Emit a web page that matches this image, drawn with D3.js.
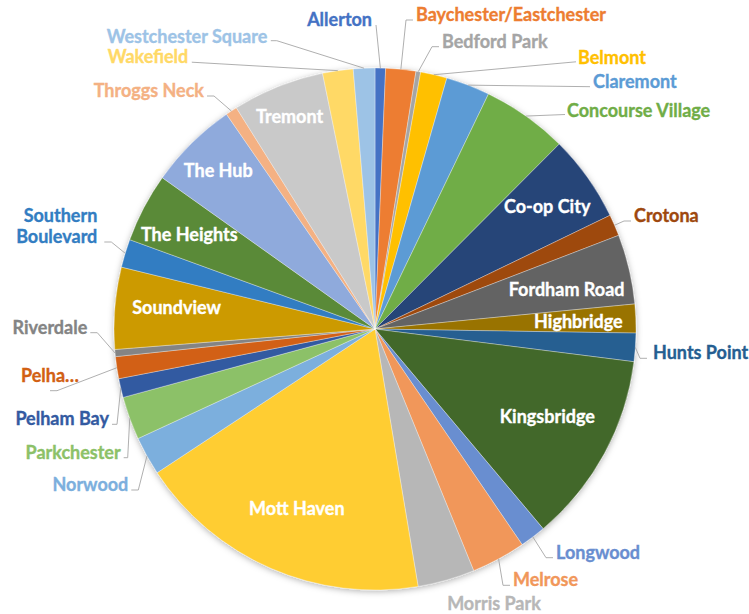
<!DOCTYPE html>
<html>
<head>
<meta charset="utf-8">
<script src="https://cdn.jsdelivr.net/npm/d3@7"></script>
<style>
  html, body { margin: 0; padding: 0; background: #ffffff; }
  svg { display: block; }
  text { font-family: "Lato", "Open Sans", sans-serif; font-weight: 700; }
</style>
</head>
<body>
<svg id="chart" width="749" height="614"></svg>
<script>
// Bronx neighborhoods, share of total (%), clockwise from 12 o'clock
const neighborhoods = [
  "Allerton", "Baychester/Eastchester", "Bedford Park", "Belmont", "Claremont",
  "Concourse Village", "Co-op City", "Crotona", "Fordham Road", "Highbridge",
  "Hunts Point", "Kingsbridge", "Longwood", "Melrose", "Morris Park",
  "Mott Haven", "Norwood", "Parkchester", "Pelham Bay", "Pelham Parkway",
  "Riverdale", "Soundview", "Southern Boulevard", "The Heights", "The Hub",
  "Throggs Neck", "Tremont", "Wakefield", "Westchester Square"
];
const shares = [
  0.65, 1.86, 0.29, 1.64, 2.72,
  5.31, 5.36, 1.33, 4.31, 1.78,
  1.75, 11.86, 1.61, 3.36, 3.53,
  18.36, 2.39, 2.67, 1.17, 1.36,
  0.44, 5.06, 1.75, 4.28, 5.53,
  0.72, 5.69, 1.89, 1.33
];
// label text as shown (long names may be shortened or wrapped)
const labelLines = [
  ["Allerton"], ["Baychester/Eastchester"], ["Bedford Park"], ["Belmont"], ["Claremont"],
  ["Concourse Village"], ["Co-op City"], ["Crotona"], ["Fordham Road"], ["Highbridge"],
  ["Hunts Point"], ["Kingsbridge"], ["Longwood"], ["Melrose"], ["Morris Park"],
  ["Mott Haven"], ["Norwood"], ["Parkchester"], ["Pelham Bay"], ["Pelha…"],
  ["Riverdale"], ["Soundview"], ["Southern", "Boulevard"], ["The Heights"], ["The Hub"],
  ["Throggs Neck"], ["Tremont"], ["Wakefield"], ["Westchester Square"]
];
const sliceColors = [
  "#4472C4", "#ED7D31", "#A5A5A5", "#FFC000", "#5B9BD5",
  "#70AD47", "#264478", "#9E480E", "#636363", "#997300",
  "#255E91", "#43682B", "#698ED0", "#F1975A", "#B7B7B7",
  "#FFCD33", "#7CAFDD", "#8CC168", "#335AA1", "#D26012",
  "#848484", "#CC9A00", "#327DC2", "#5A8A39", "#8FAADC",
  "#F4B183", "#C9C9C9", "#FFD966", "#9DC3E6"
];

// ---- layout ----
const cx = 375, cy = 329, R = 261;
const fontSize = 18;

// labels drawn inside their slice: distance from centre (fraction of R)
// and a small angular nudge in degrees
const insideLabel = {
  "Co-op City":   { r: 0.81,  nudge: 0 },
  "Fordham Road": { r: 0.75,  nudge: 1.5 },
  "Highbridge":   { r: 0.78,  nudge: 0 },
  "Kingsbridge":  { r: 0.74,  nudge: -1.7 },
  "Mott Haven":   { r: 0.75,  nudge: 0 },
  "Soundview":    { r: 0.765, nudge: 1.8 },
  "The Heights":  { r: 0.80,  nudge: -0.5 },
  "The Hub":      { r: 0.855, nudge: 0 },
  "Tremont":      { r: 0.88,  nudge: 0 }
};
// labels outside the pie: offset of the text anchor from the centre, anchor side,
// and leader style ("elbow" = short horizontal stub, "straight", "none"); end = attach offset
const outside = {
  "Allerton":               { dx: -3,     dy: -310,   anchor: "end",    leader: "straight", end: [4, 6] },
  "Baychester/Eastchester": { dx: 41,     dy: -315,   anchor: "start",  leader: "elbow" },
  "Bedford Park":           { dx: 67,     dy: -288.3, anchor: "start",  leader: "elbow" },
  "Belmont":                { dx: 203,    dy: -271.7, anchor: "start",  leader: "straight", end: [-2, 4.5] },
  "Claremont":              { dx: 218,    dy: -248.3, anchor: "start",  leader: "straight", end: [-3, 6] },
  "Concourse Village":      { dx: 192,    dy: -219,   anchor: "start",  leader: "straight", end: [-2, 4.5] },
  "Crotona":                { dx: 259,    dy: -114,   anchor: "start",  leader: "elbow" },
  "Hunts Point":            { dx: 278,    dy: 23.3,   anchor: "start",  leader: "elbow", end: [-6, 6] },
  "Longwood":               { dx: 181,    dy: 222.7,  anchor: "start",  leader: "elbow" },
  "Melrose":                { dx: 138,    dy: 250.3,  anchor: "start",  leader: "elbow" },
  "Morris Park":            { dx: 119,    dy: 273.7,  anchor: "middle", leader: "none" },
  "Norwood":                { dx: -246.7, dy: 155,    anchor: "end",    leader: "elbow" },
  "Parkchester":            { dx: -254.3, dy: 122.7,  anchor: "end",    leader: "elbow", stub: 4 },
  "Pelham Bay":             { dx: -266,   dy: 89.3,   anchor: "end",    leader: "elbow", stub: 5 },
  "Pelham Parkway":         { dx: -296,   dy: 46,     anchor: "end",    leader: "elbow", end: [-29, 15.7] },
  "Riverdale":              { dx: -287.7, dy: -2.3,   anchor: "end",    leader: "elbow" },
  "Southern Boulevard":     { dx: -277.7, dy: -103.5, anchor: "end",    leader: "elbow", end: [7, 16.5] },
  "Throggs Neck":           { dx: -171,   dy: -239,   anchor: "end",    leader: "elbow" },
  "Wakefield":              { dx: -186.7, dy: -273.3, anchor: "end",    leader: "straight", end: [3.5, 6.5] },
  "Westchester Square":     { dx: -107.7, dy: -293.3, anchor: "end",    leader: "elbow", end: [3.5, 5], stub: 6 }
};

const rows = neighborhoods.map((name, i) => ({
  name, value: shares[i], color: sliceColors[i], lines: labelLines[i]
}));

const svg = d3.select("#chart");

const defs = svg.append("defs");
const shadow = defs.append("filter").attr("id", "pieShadow")
  .attr("x", "-10%").attr("y", "-10%").attr("width", "120%").attr("height", "120%");
shadow.append("feDropShadow")
  .attr("dx", 0).attr("dy", 1.5).attr("stdDeviation", 3)
  .attr("flood-color", "#000").attr("flood-opacity", 0.3);

const pie = d3.pie().value(d => d.value).sort(null)
  .startAngle(0).endAngle(2 * Math.PI);
const arcs = pie(rows);
const arc = d3.arc().innerRadius(0).outerRadius(R);

const g = svg.append("g").attr("transform", `translate(${cx},${cy})`);

g.append("g").attr("filter", "url(#pieShadow)")
  .selectAll("path")
  .data(arcs)
  .join("path")
  .attr("d", arc)
  .attr("fill", d => d.data.color)
  .attr("stroke", "rgba(255,255,255,0.55)")
  .attr("stroke-width", 0.6);

// point at radius r along the middle angle of a slice (plus optional nudge in degrees)
function midPoint(d, r, nudge = 0) {
  const a = (d.startAngle + d.endAngle) / 2 + nudge * Math.PI / 180;
  return [r * Math.sin(a), -r * Math.cos(a)];
}

const lineH = fontSize * 1.17;

// inside (white) labels
arcs.filter(d => insideLabel[d.data.name] !== undefined).forEach(d => {
  const L = insideLabel[d.data.name];
  const [x, y] = midPoint(d, R * L.r, L.nudge);
  g.append("text")
    .attr("x", x).attr("y", y)
    .attr("text-anchor", "middle")
    .attr("dominant-baseline", "central")
    .attr("font-size", fontSize)
    .attr("fill", "#ffffff")
    .attr("stroke", "#ffffff").attr("stroke-width", 0.35)
    .text(d.data.lines[0]);
});

// outside labels and leader lines
const leaders = g.append("g").attr("fill", "none")
  .attr("stroke", "#A6A6A6").attr("stroke-width", 0.9);

arcs.filter(d => outside[d.data.name] !== undefined).forEach(d => {
  const L = outside[d.data.name];
  const n = d.data.lines.length;
  const t = g.append("text")
    .attr("text-anchor", L.anchor)
    .attr("font-size", fontSize)
    .attr("fill", d.data.color)
    .attr("stroke", d.data.color).attr("stroke-width", 0.35);
  d.data.lines.forEach((s, k) => {
    t.append("tspan")
      .attr("x", L.dx)
      .attr("y", L.dy + (k - (n - 1) / 2) * lineH)
      .attr("dominant-baseline", "central")
      .text(s);
  });

  if (L.leader === "none") return;
  const side = L.anchor === "start" ? -1 : 1;   // direction from the text edge toward the pie
  const endOff = L.end || [side * 3, 6];
  const end = [L.dx + endOff[0], L.dy + endOff[1]];
  const pts = [midPoint(d, R)];
  if (L.leader === "elbow") pts.push([end[0] + side * (L.stub || 7), end[1]]);
  pts.push(end);
  leaders.append("path").attr("d", d3.line()(pts));
});
</script>
</body>
</html>
